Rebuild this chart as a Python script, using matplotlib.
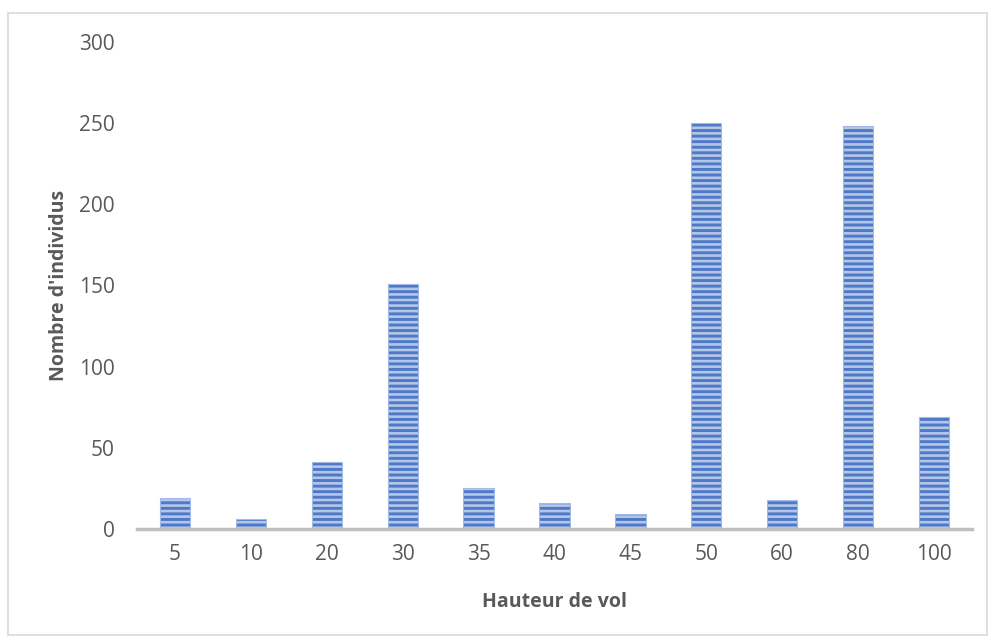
import matplotlib.pyplot as plt
from matplotlib.patches import Rectangle

plt.rcParams['font.family'] = ['Open Sans', 'DejaVu Sans']
plt.rcParams['hatch.linewidth'] = 2.1

hauteurs = ['5', '10', '20', '30', '35', '40', '45', '50', '60', '80', '100']
individus = [19, 6, 41, 151, 25, 16, 9, 250, 18, 248, 69]

W, H = 989, 636
fig = plt.figure(figsize=(W / 100, H / 100), dpi=100)
ax = fig.add_axes([137 / W, 1 - 529 / H, (972 - 137) / W, (529 - 42) / H])

# bordure du graphique
fig.patches.append(Rectangle((8 / W, 0.002), (W - 10) / W, 1 - 13 / H - 0.002,
                             transform=fig.transFigure, fill=False,
                             edgecolor='#D9D9D9', linewidth=1.2))

x = range(len(hauteurs))
# fond clair + hachures horizontales bleues
ax.bar(x, individus, width=0.4, color='#B4C7E7', edgecolor='#4E78C8',
       linewidth=0, hatch='---', zorder=2)
ax.bar(x, individus, width=0.4, fill=False, edgecolor='#A3BAE5',
       linewidth=0.8, zorder=2)

ax.set_xlim(-0.5, len(hauteurs) - 0.5)
ax.set_ylim(0, 300)
ax.set_yticks(range(0, 301, 50))
ax.set_xticks(list(x))
ax.set_xticklabels(hauteurs)

for s in ['top', 'right', 'left']:
    ax.spines[s].set_visible(False)
ax.spines['bottom'].set_color('#BFBFBF')
ax.spines['bottom'].set_linewidth(2.5)
ax.spines['bottom'].set_zorder(3)

ax.tick_params(axis='both', length=0, labelsize=15, labelcolor='#595959')
ax.tick_params(axis='y', pad=16)
ax.tick_params(axis='x', pad=11)

ax.set_xlabel('Hauteur de vol', fontsize=14, fontweight='bold', color='#595959', labelpad=19)
ax.set_ylabel("Nombre d'individus", fontsize=14, fontweight='bold', color='#595959', labelpad=7)

fig.savefig('out.png', dpi=100)
